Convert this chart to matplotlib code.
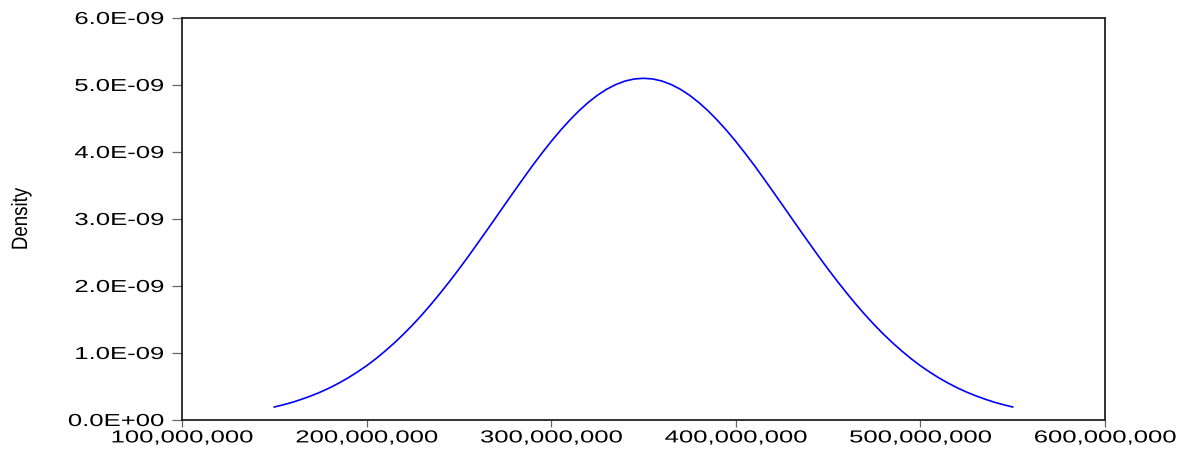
import matplotlib
matplotlib.use("Agg")
import matplotlib.pyplot as plt
from matplotlib.patheffects import AbstractPathEffect
from matplotlib.transforms import Affine2D

# values (x in millions, density in 1E-09)
x_mill = [150, 155, 160, 165, 170, 175, 180, 185, 190, 195,
          200, 205, 210, 215, 220, 225, 230, 235, 240, 245,
          250, 255, 260, 265, 270, 275, 280, 285, 290, 295,
          300, 305, 310, 315, 320, 325, 330, 335, 340, 345,
          350, 355, 360, 365, 370, 375, 380, 385, 390, 395,
          400, 405, 410, 415, 420, 425, 430, 435, 440, 445,
          450, 455, 460, 465, 470, 475, 480, 485, 490, 495,
          500, 505, 510, 515, 520, 525, 530, 535, 540, 545, 550]
dens_e9 = [0.194, 0.228, 0.266, 0.311, 0.361, 0.417, 0.480, 0.551, 0.629, 0.716,
           0.810, 0.914, 1.028, 1.150, 1.281, 1.421, 1.571, 1.730, 1.897, 2.071,
           2.251, 2.438, 2.631, 2.825, 3.022, 3.220, 3.416, 3.610, 3.801, 3.983,
           4.158, 4.322, 4.474, 4.614, 4.738, 4.846, 4.936, 5.007, 5.059, 5.090,
           5.100, 5.090, 5.059, 5.007, 4.936, 4.846, 4.738, 4.614, 4.474, 4.322,
           4.158, 3.983, 3.801, 3.610, 3.416, 3.220, 3.022, 2.825, 2.631, 2.438,
           2.251, 2.071, 1.897, 1.730, 1.571, 1.421, 1.281, 1.150, 1.028, 0.914,
           0.810, 0.716, 0.629, 0.551, 0.480, 0.417, 0.361, 0.311, 0.266, 0.228,
           0.194]

xticks = [100e6, 200e6, 300e6, 400e6, 500e6, 600e6]
xlabels = ["100,000,000", "200,000,000", "300,000,000", "400,000,000",
           "500,000,000", "600,000,000"]
yticks = [0, 1e-9, 2e-9, 3e-9, 4e-9, 5e-9, 6e-9]
ylabels = ["0.0E+00", "1.0E-09", "2.0E-09", "3.0E-09", "4.0E-09", "5.0E-09", "6.0E-09"]


# stretch text horizontally (the reference font is wide)
class Stretch(AbstractPathEffect):
    def __init__(self, sx, anchor="center"):
        super().__init__()
        self.sx = sx
        self.anchor = anchor

    def draw_path(self, renderer, gc, tpath, affine, rgbFace=None):
        ext = tpath.get_extents()
        x0 = ext.x1 if self.anchor == "right" else (ext.x0 + ext.x1) / 2
        t = Affine2D().translate(-x0, 0).scale(self.sx, 1).translate(x0, 0)
        renderer.draw_path(gc, tpath, t + affine, rgbFace)


plt.rcParams["font.family"] = "Liberation Sans"

fig = plt.figure(figsize=(11.85, 4.52), dpi=100)
ax = fig.add_axes([182 / 1185, 1 - 421 / 452, 923 / 1185, 402 / 452])

ax.plot([v * 1e6 for v in x_mill], [v * 1e-9 for v in dens_e9],
        color="#0000ff", lw=1.2)

ax.set_xlim(100e6, 600e6)
ax.set_ylim(0, 6e-9)
ax.set_xticks(xticks)
ax.set_xticklabels(xlabels, fontsize=12.5)
ax.set_yticks(yticks)
ax.set_yticklabels(ylabels, fontsize=12.5)

ax.tick_params(axis="y", length=7.5, width=0.9, color="#666666", pad=5.5)
ax.tick_params(axis="x", length=5, width=0.9, color="#666666", pad=2.5)

for lab in ax.get_xticklabels():
    lab.set_path_effects([Stretch(1.48, "center")])
for lab in ax.get_yticklabels():
    lab.set_path_effects([Stretch(1.48, "right")])

for sp in ax.spines.values():
    sp.set_linewidth(1.3)
    sp.set_color("#222222")

yl = ax.set_ylabel("Density", fontsize=16, labelpad=0)
yl.set_path_effects([Stretch(0.84, "center")])
ax.yaxis.set_label_coords(-150 / 923, 0.5)

fig.savefig("out.png", dpi=100)
